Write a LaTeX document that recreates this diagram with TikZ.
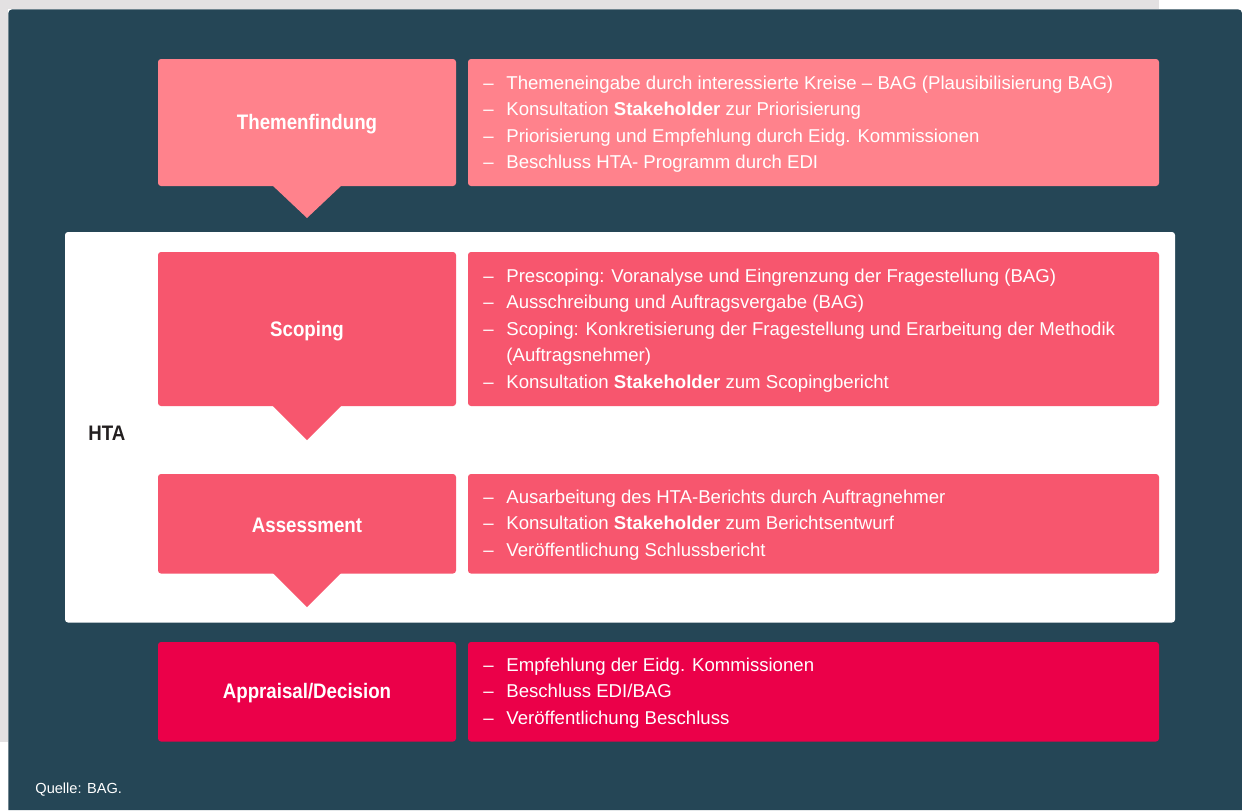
\documentclass[tikz,border=0pt]{standalone}
\usepackage{fontspec}
\setmainfont{Liberation Sans}
\newfontfamily\headfont{Liberation Sans}[FakeStretch=0.89]

\definecolor{panel}{HTML}{254656}
\definecolor{paper}{HTML}{E3E1E2}
\definecolor{stepone}{HTML}{FF828C}
\definecolor{steptwo}{HTML}{F7566E}
\definecolor{stepthree}{HTML}{EB0049}
\definecolor{ink}{HTML}{231F20}

\newcommand{\itm}{\makebox[11.5pt][l]{--}}
\newcommand{\gap}{\hspace*{11.5pt}}

\begin{document}
\begin{tikzpicture}[x=0.5pt,y=-0.5pt,
    box/.style={fill=#1,rounded corners=1.5pt},
    title/.style={text=white,font=\headfont\bfseries\fontsize{10.5}{12}\selectfont},
    items/.style={anchor=west,inner sep=0pt,align=left,text=white,
      font=\fontsize{9.3}{13.2}\selectfont}]
  \useasboundingbox (0,0) rectangle (1242,810);
  \fill[white] (0,0) rectangle (1242,810);
  \fill[paper] (0,0) rectangle (1159,9.3);
  \fill[paper] (0,0) rectangle (8.3,741.7);
  \fill[panel] [rounded corners=2pt] (8.3,810) |- (1242,9.3)
    [sharp corners] -- (1242,810) -- cycle;
  \fill[box=white] (65,232) rectangle (1175,622.5);

  \fill[box=stepone] (158,59) rectangle (456,186);
  \fill[stepone] (272,185) -- (307,218) -- (342,185) -- cycle;
  \fill[box=stepone] (468,59) rectangle (1159,186);
  \node[title] (themen) at (307,124.5) {Themenfindung};
  \node[items] (themenitems) at (483,124) {%
    \itm Themeneingabe durch interessierte Kreise -- BAG (Plausibilisierung BAG)\\
    \itm Konsultation \textbf{Stakeholder} zur Priorisierung\\
    \itm Priorisierung und Empfehlung durch Eidg. Kommissionen\\
    \itm Beschluss HTA- Programm durch EDI};

  \fill[box=steptwo] (158,252) rectangle (456,406);
  \fill[steptwo] (272,405) -- (307,440) -- (342,405) -- cycle;
  \fill[box=steptwo] (468,252) rectangle (1159,406);
  \node[title] (scoping) at (307,331) {Scoping};
  \node[items] (scopingitems) at (483,330.5) {%
    \itm Prescoping: Voranalyse und Eingrenzung der Fragestellung (BAG)\\
    \itm Ausschreibung und Auftragsvergabe (BAG)\\
    \itm Scoping: Konkretisierung der Fragestellung und Erarbeitung der Methodik\\
    \gap (Auftragsnehmer)\\
    \itm Konsultation \textbf{Stakeholder} zum Scopingbericht};

  \fill[box=steptwo] (158,474) rectangle (456,573.5);
  \fill[steptwo] (272,572) -- (307,607) -- (342,572) -- cycle;
  \fill[box=steptwo] (468,474) rectangle (1159,573.5);
  \node[title] (assess) at (307,525.5) {Assessment};
  \node[items] (assessitems) at (483,525) {%
    \itm Ausarbeitung des HTA-Berichts durch Auftragnehmer\\
    \itm Konsultation \textbf{Stakeholder} zum Berichtsentwurf\\
    \itm Veröffentlichung Schlussbericht};

  \fill[box=stepthree] (158,642) rectangle (456,741.5);
  \fill[box=stepthree] (468,642) rectangle (1159,741.5);
  \node[title] (appraisal) at (307,693.5) {Appraisal/Decision};
  \node[items] (appraisalitems) at (483,693) {%
    \itm Empfehlung der Eidg. Kommissionen\\
    \itm Beschluss EDI/BAG\\
    \itm Veröffentlichung Beschluss};

  \node[title,text=ink,anchor=west,inner sep=0pt] (hta) at (88,433) {HTA};
  \node[anchor=west,inner sep=0pt,text=white,
    font=\fontsize{7.3}{9}\selectfont] (quelle) at (35,790) {Quelle: BAG.};
\end{tikzpicture}
\end{document}
